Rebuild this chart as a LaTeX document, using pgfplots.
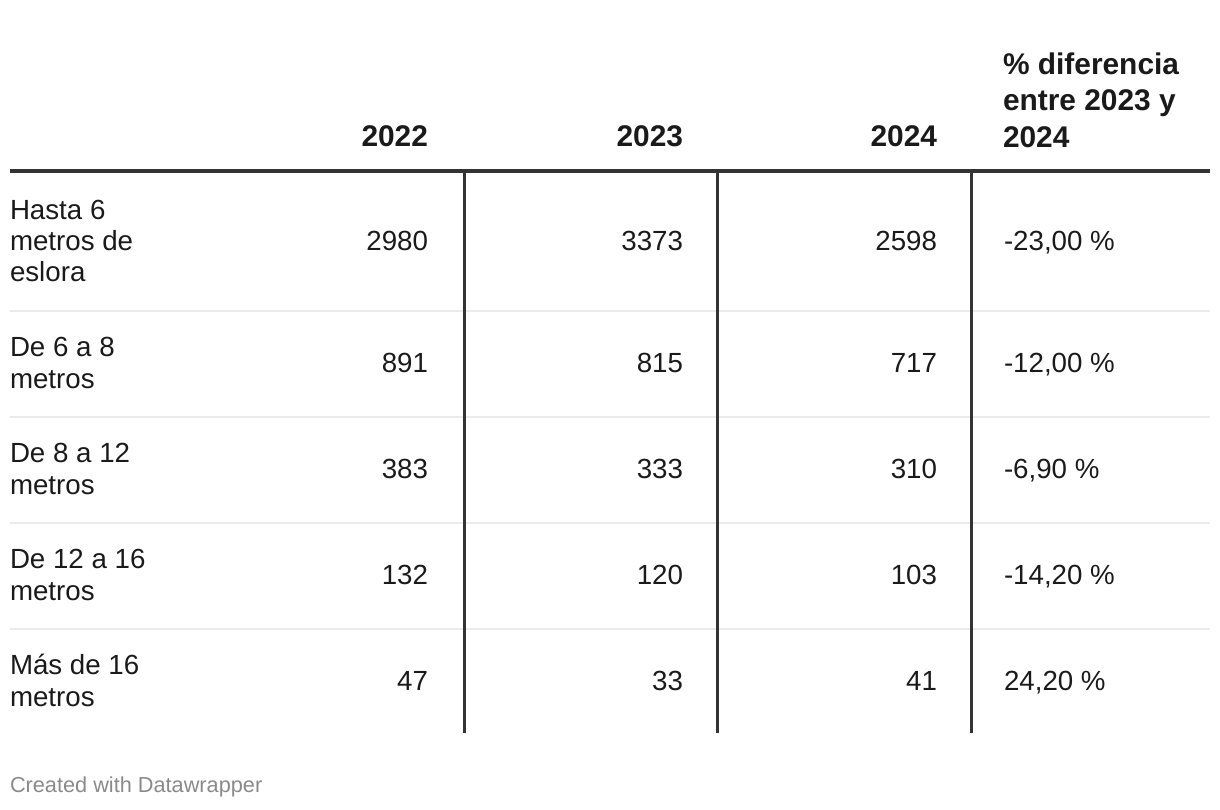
\documentclass[border=0pt]{standalone}
\usepackage{pgfplots}
\pgfplotsset{compat=1.18}
\usepackage{fontspec}
\setmainfont{Liberation Sans}
\definecolor{txt}{HTML}{1A1A1A}
\definecolor{rulec}{HTML}{333333}
\definecolor{sepc}{HTML}{EBEBEB}
\definecolor{foot}{HTML}{8A8A8A}
\pgfplotsset{
  cell/.style={draw=none, mark=none, nodes near coords, point meta=explicit symbolic,
    nodes near coords style={inner sep=0pt, outer sep=0pt, text=txt, font=\fontsize{13.9}{16}\selectfont, anchor=#1}},
  head/.style={draw=none, mark=none, nodes near coords, point meta=explicit symbolic,
    nodes near coords style={inner sep=0pt, outer sep=0pt, text=txt, font=\fontsize{15}{18}\selectfont\bfseries, anchor=#1}},
}
\begin{document}
\begin{tikzpicture}
\begin{axis}[scale only axis, width=610bp, height=405bp,
  xmin=0, xmax=1220, ymin=0, ymax=810, y dir=reverse,
  hide axis, clip=false]
% frame for bounding box
\addplot[draw=none, mark=none] coordinates {(0,0) (1220,810)};
% light row separators
\addplot[sepc, line width=1bp, mark=none] coordinates {(10,311) (1210,311)};
\addplot[sepc, line width=1bp, mark=none] coordinates {(10,417) (1210,417)};
\addplot[sepc, line width=1bp, mark=none] coordinates {(10,523) (1210,523)};
\addplot[sepc, line width=1bp, mark=none] coordinates {(10,629) (1210,629)};
% header rule
\addplot[rulec, line width=2bp, mark=none] coordinates {(10,171.5) (1210,171.5)};
% vertical rules
\addplot[rulec, line width=1.5bp, mark=none] coordinates {(464,173) (464,733)};
\addplot[rulec, line width=1.5bp, mark=none] coordinates {(717,173) (717,733)};
\addplot[rulec, line width=1.5bp, mark=none] coordinates {(971,173) (971,733)};
% header
\addplot[head=base east] coordinates {(428,146)[2022] (683,146)[2023] (937,146)[2024]};
\addplot[head=base west] coordinates {(1003,75)[{\% diferencia}] (1003,111)[{entre 2023 y}] (1003,147)[2024]};
% row labels
\addplot[cell=base west] coordinates {
 (10,220)[{Hasta 6}] (10,251)[{metros de}] (10,282)[{eslora}]
 (10,357)[{De 6 a 8}] (10,389)[{metros}]
 (10,463)[{De 8 a 12}] (10,495)[{metros}]
 (10,569)[{De 12 a 16}] (10,601)[{metros}]
 (10,675)[{Más de 16}] (10,707)[{metros}]
};
% 2022
\addplot[cell=base east] coordinates {(428,251)[2980] (428,373)[891] (428,479)[383] (428,585)[132] (428,691)[47]};
% 2023
\addplot[cell=base east] coordinates {(683,251)[3373] (683,373)[815] (683,479)[333] (683,585)[120] (683,691)[33]};
% 2024
\addplot[cell=base east] coordinates {(937,251)[2598] (937,373)[717] (937,479)[310] (937,585)[103] (937,691)[41]};
% percent difference
\addplot[cell=base west] coordinates {(1004,251)[{-23,00 \%}] (1004,373)[{-12,00 \%}] (1004,479)[{-6,90 \%}] (1004,585)[{-14,20 \%}] (1004,691)[{24,20 \%}]};
% footer
\addplot[draw=none, mark=none, nodes near coords, point meta=explicit symbolic,
  nodes near coords style={inner sep=0pt, outer sep=0pt, text=foot, font=\fontsize{10.9}{13}\selectfont, anchor=base west}]
  coordinates {(10,793)[{Created with Datawrapper}]};
\end{axis}
\end{tikzpicture}
\end{document}
